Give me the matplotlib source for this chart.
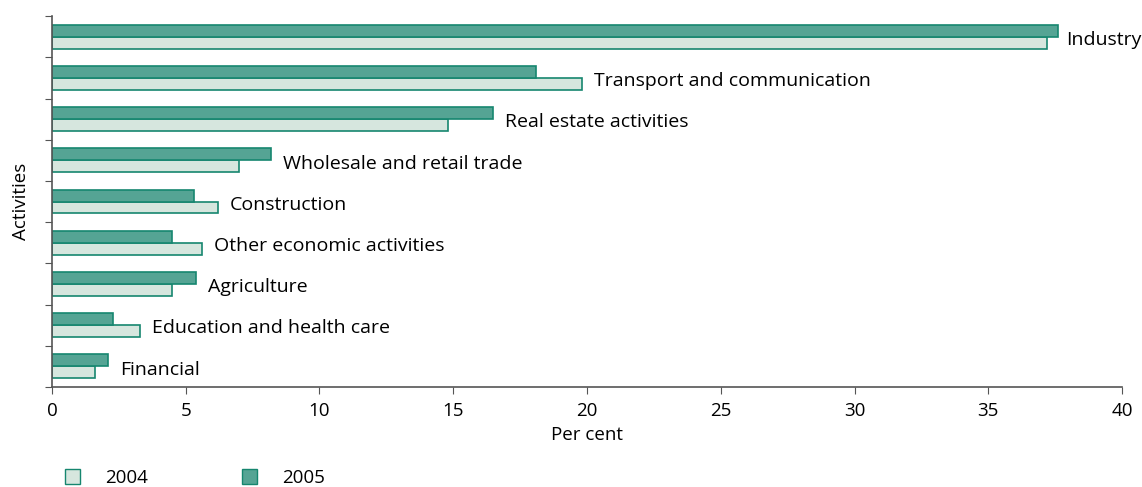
import matplotlib.pyplot as plt
from matplotlib.patches import Patch

plt.rcParams['font.family'] = ['Open Sans', 'DejaVu Sans']

# Share of activities, per cent (top to bottom)
activities = ['Industry', 'Transport and communication', 'Real estate activities',
              'Wholesale and retail trade', 'Construction', 'Other economic activities',
              'Agriculture', 'Education and health care', 'Financial']
share_2004 = [37.2, 19.8, 14.8, 7.0, 6.2, 5.6, 4.5, 3.3, 1.6]
share_2005 = [37.6, 18.1, 16.5, 8.2, 5.3, 4.5, 5.4, 2.3, 2.1]

fill_2004 = '#d6e6de'
fill_2005 = '#55a494'
edge = '#16866f'

fig = plt.figure(figsize=(11.42, 4.87), dpi=100)
ax = fig.add_axes([0.0455, 0.2053, 0.937, 0.7617])

n = len(activities)
centers = [n - i - 0.5 for i in range(n)]
h = 0.29

ax.barh([c - h / 2 for c in centers], share_2004, height=h, color=fill_2004,
        edgecolor=edge, linewidth=1.2)
ax.barh([c + h / 2 for c in centers], share_2005, height=h, color=fill_2005,
        edgecolor=edge, linewidth=1.2)

for i, (c, name, a, b) in enumerate(zip(centers, activities, share_2004, share_2005)):
    gap = 0.3 if i == 0 else 0.45
    ax.text(max(a, b) + gap, c - 0.08, name, va='center', ha='left', fontsize=14,
            clip_on=False)

ax.set_xlim(0, 40)
ax.set_ylim(0, n)
ax.set_xticks(range(0, 41, 5))
ax.set_yticks(range(0, n + 1))
ax.set_yticklabels([])
ax.tick_params(axis='x', labelsize=13.5, length=5, color='#555555', pad=6)
ax.tick_params(axis='y', length=5, color='#555555')
for side in ('top', 'right'):
    ax.spines[side].set_visible(False)
for side in ('left', 'bottom'):
    ax.spines[side].set_color('#555555')
    ax.spines[side].set_linewidth(1.2)

ax.set_xlabel('Per cent', fontsize=13.5, labelpad=4)
ax.set_ylabel('Activities', fontsize=13.5, labelpad=7)

handles = [Patch(facecolor=fill_2004, edgecolor=edge, label='2004'),
           Patch(facecolor=fill_2005, edgecolor=edge, label='2005')]
fig.legend(handles=handles, loc='center left', bbox_to_anchor=(0.0569, 0.0185), ncol=2,
           frameon=False, fontsize=13.5, handlelength=0.8, handleheight=0.8,
           handletextpad=1.35, columnspacing=5.0, borderpad=0, borderaxespad=0)

fig.savefig('out.png', dpi=100)
